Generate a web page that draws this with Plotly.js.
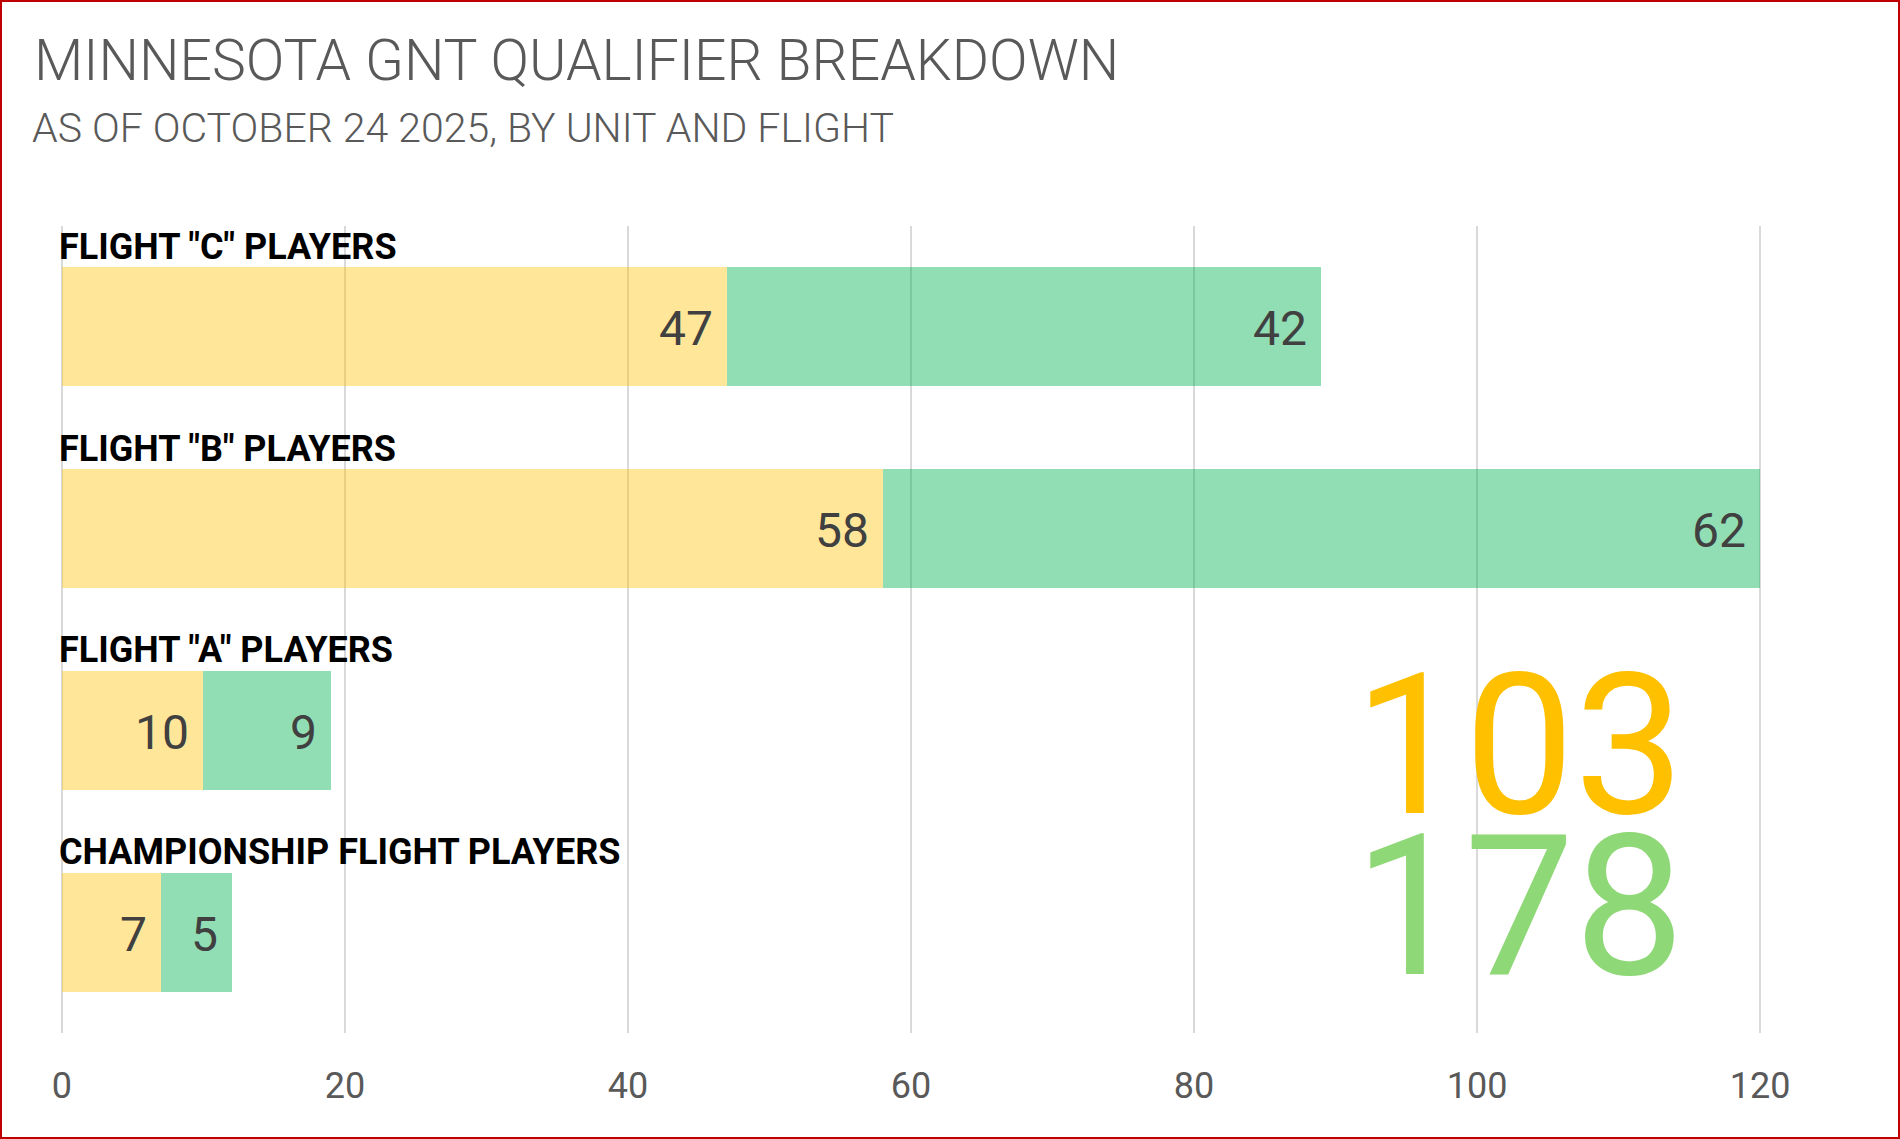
<!DOCTYPE html>
<html>
<head>
<meta charset="utf-8">
<script src="https://cdn.plot.ly/plotly-3.0.1.min.js"></script>
<style>
  html, body { margin: 0; padding: 0; background: #fff; }
  #wrap { position: relative; width: 1900px; height: 1139px; overflow: hidden; }
  #chart { position: absolute; left: 0; top: 0; width: 1900px; height: 1139px; }
  #frame { position: absolute; left: 0; top: 0; width: 1900px; height: 1139px; box-sizing: border-box; border: 2px solid #C00000; pointer-events: none; }
</style>
</head>
<body>
<div id="wrap">
  <div id="chart"></div>
  <div id="frame"></div>
</div>
<script>
// ---- data ----
const categories = ['FLIGHT "C" PLAYERS', 'FLIGHT "B" PLAYERS', 'FLIGHT "A" PLAYERS', 'CHAMPIONSHIP FLIGHT PLAYERS'];
const unit103 = [47, 58, 10, 7];
const unit178 = [42, 62, 9, 5];
const seriesNames = ['103', '178'];
const xTickVals = [0, 20, 40, 60, 80, 100, 120];
const titleText = 'MINNESOTA GNT QUALIFIER BREAKDOWN';
const subtitleText = 'AS OF OCTOBER 24 2025, BY UNIT AND FLIGHT';

// ---- styles ----
const FONT = 'Roboto, "Liberation Sans", Arial, sans-serif';
const fillColors = ['rgba(255,192,0,0.4)', 'rgba(0,176,80,0.43)'];
const legendColors = ['#FFC000', '#8FD877'];

const traces = [
  { type: 'bar', orientation: 'h', name: seriesNames[0], y: categories, x: unit103,
    marker: { color: fillColors[0], line: { width: 0 } }, hoverinfo: 'skip' },
  { type: 'bar', orientation: 'h', name: seriesNames[1], y: categories, x: unit178,
    marker: { color: fillColors[1], line: { width: 0 } }, hoverinfo: 'skip' }
];

const annotations = [];
// category labels above each bar
categories.forEach((c) => {
  annotations.push({
    xref: 'paper', x: 0, yref: 'y', y: c,
    xanchor: 'left', yanchor: 'middle', xshift: -2, yshift: 80,
    text: c, showarrow: false,
    font: { family: FONT, size: 36, color: '#000000', weight: 700 }
  });
});
// value labels inside end of each segment
categories.forEach((c, i) => {
  annotations.push({
    xref: 'x', x: unit103[i], yref: 'y', y: c, xanchor: 'right', yanchor: 'middle', xshift: -12, yshift: -2,
    text: String(unit103[i]), showarrow: false,
    font: { family: FONT, size: 48, color: '#404040' }
  });
  annotations.push({
    xref: 'x', x: unit103[i] + unit178[i], yref: 'y', y: c, xanchor: 'right', yanchor: 'middle', xshift: -12, yshift: -2,
    text: String(unit178[i]), showarrow: false,
    font: { family: FONT, size: 48, color: '#404040' }
  });
});
// big series-name legend
annotations.push({
  xref: 'paper', x: 0.857, yref: 'paper', y: 0.356, xanchor: 'center', yanchor: 'middle',
  text: seriesNames[0], showarrow: false,
  font: { family: FONT, size: 196, color: legendColors[0] }
});
annotations.push({
  xref: 'paper', x: 0.857, yref: 'paper', y: 0.156, xanchor: 'center', yanchor: 'middle',
  text: seriesNames[1], showarrow: false,
  font: { family: FONT, size: 196, color: legendColors[1] }
});
// subtitle
annotations.push({
  xref: 'paper', x: -0.0171, yref: 'paper', y: 1.1214, xanchor: 'left', yanchor: 'middle',
  text: subtitleText, showarrow: false,
  font: { family: FONT, size: 41, color: '#595959', weight: 300 }
});

// x range padded a hair so the 0 and 120 grid lines are drawn inside the plot
const xPad = 0.2;
const pxPerUnit = 1698 / 120;
const layout = {
  width: 1900, height: 1139,
  paper_bgcolor: '#ffffff', plot_bgcolor: '#ffffff',
  margin: { l: 62 - xPad * pxPerUnit, r: 140 - xPad * pxPerUnit, t: 226, b: 106 },
  barmode: 'stack', bargap: 0.41,
  showlegend: false,
  title: {
    text: titleText, xref: 'container', yref: 'container',
    x: 34 / 1900, xanchor: 'left', y: 1 - 60 / 1139, yanchor: 'middle',
    font: { family: FONT, size: 57, color: '#595959', weight: 300 }
  },
  xaxis: {
    range: [-xPad, 120 + xPad], tickvals: xTickVals, ticktext: xTickVals.map(String),
    showgrid: true, gridcolor: '#d9d9d9', gridwidth: 2,
    zeroline: true, zerolinecolor: '#d9d9d9', zerolinewidth: 2,
    showline: false, ticks: '',
    tickfont: { family: FONT, size: 36, color: '#595959' },
    ticklabelstandoff: 28, fixedrange: true
  },
  yaxis: {
    type: 'category', categoryorder: 'array', categoryarray: categories,
    range: [3.5, -0.5], showticklabels: false, showgrid: false, zeroline: false,
    ticks: '', fixedrange: true
  },
  annotations: annotations
};

Plotly.newPlot('chart', traces, layout, { displayModeBar: false, staticPlot: true });
</script>
</body>
</html>
